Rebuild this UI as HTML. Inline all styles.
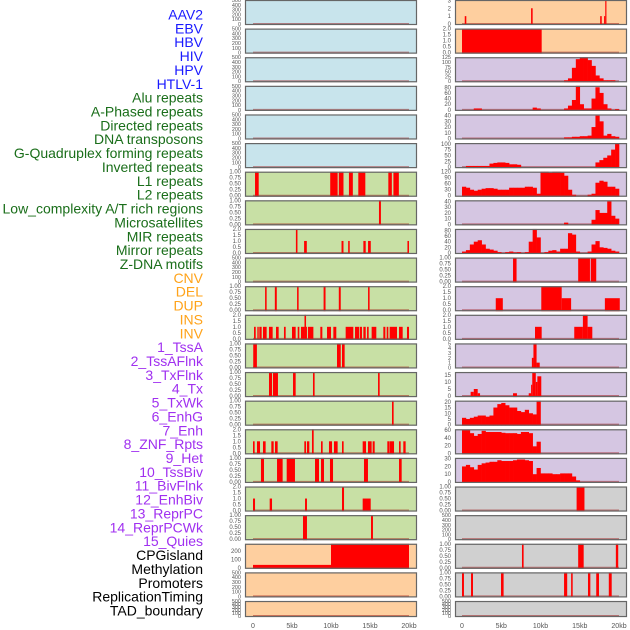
<!DOCTYPE html>
<html><head><meta charset="utf-8"><style>
html,body{margin:0;padding:0;background:#fff;}
svg{display:block;font-family:"Liberation Sans",sans-serif;}
</style></head><body>
<svg id="chart" width="630" height="630" viewBox="0 0 630 630"></svg>
<script>
// ---------- data ----------
const labelTexts = ["AAV2","EBV","HBV","HIV","HPV","HTLV-1","Alu repeats","A-Phased repeats","Directed repeats","DNA transposons","G-Quadruplex forming repeats","Inverted repeats","L1 repeats","L2 repeats","Low_complexity A/T rich regions","Microsatellites","MIR repeats","Mirror repeats","Z-DNA motifs","CNV","DEL","DUP","INS","INV","1_TssA","2_TssAFlnk","3_TxFlnk","4_Tx","5_TxWk","6_EnhG","7_Enh","8_ZNF_Rpts","9_Het","10_TssBiv","11_BivFlnk","12_EnhBiv","13_ReprPC","14_ReprPCWk","15_Quies","CPGisland","Methylation","Promoters","ReplicationTiming","TAD_boundary"];
const labelGroups = [0,0,0,0,0,0,1,1,1,1,1,1,1,1,1,1,1,1,1,2,2,2,2,2,3,3,3,3,3,3,3,3,3,3,3,3,3,3,3,4,4,4,4,4];
const xTickLabels = ["0","5kb","10kb","15kb","20kb"];
const xTickValues = [0,5,10,15,20];

const ticks500 = [0,100,200,300,400,500];
const ticksBin = [0,0.25,0.5,0.75,1];
const ticks2 = [0,0.5,1,1.5,2];

// left column segments [startKb, endKb, value]
const L6 = [[0.26,0.73,1],[9.9,10.85,1],[11,11.6,1],[12.3,12.8,1],[13.5,14.4,1],[17.35,17.8,1],[18,18.7,1]];
const L7 = [[16.15,16.4,1]];
const L8 = [[5.5,5.7,2],[6.55,6.9,1],[11.35,11.6,1],[12.2,12.4,1],[14.15,14.45,1],[14.75,15.1,1],[19.8,20,1]];
const L10 = [[1.55,1.75,1],[2.8,3.05,1],[5.65,5.85,1],[9.05,9.3,1],[11,11.25,1],[14.75,14.95,1]];
const L11 = [[0.13,0.35,1],[0.56,0.73,1],[0.81,1.11,1],[1.28,1.75,1],[2.05,2.52,1],[2.95,3.29,1],[3.97,4.19,1],[5,5.47,1],[5.73,5.94,1],[6.15,6.6,1],[6.6,6.8,2],[6.8,6.88,1],[7.05,7.74,1],[8.63,8.89,1],[9.49,10,1],[10.3,10.68,1],[11.88,12.86,1],[13.08,13.59,1],[13.68,13.97,1],[14.15,14.45,1],[14.62,14.83,1],[15.21,15.81,1],[16.71,16.97,1],[17.14,17.35,1],[17.52,18.46,1],[18.72,19.19,1],[19.74,20,1]];
const L12 = [[0.03,0.5,1],[10.77,11.25,1],[11.41,11.75,1]];
const L13 = [[2.05,2.44,1],[2.56,3.2,1],[5.13,5.47,1],[7.69,7.9,1],[16.03,16.24,1]];
const L14 = [[17.82,18.03,1]];
const L15 = [[0,0.21,1],[0.51,0.9,1],[1.28,1.62,1],[2.35,2.65,1],[2.82,3.16,1],[6.58,6.8,1],[6.92,7.22,1],[7.56,7.78,2],[8.72,8.93,1],[9.74,10.13,1],[10.38,10.85,1],[11.41,11.62,1],[14.06,14.49,1],[14.74,15.21,1],[15.34,15.6,1],[17.22,17.48,1],[17.52,18.08,1],[18.72,18.93,1],[19.27,19.57,1]];
const L16 = [[1.02,1.41,1],[3.08,3.8,1],[4.32,5.38,1],[7.95,8.46,1],[8.72,9.1,1],[9.87,10.26,1],[14.23,14.74,1],[18.72,19.06,1]];
const L17 = [[0,0.26,1],[2.14,2.44,1],[6.67,6.92,1],[11.41,11.67,2],[14.06,15.09,1]];
const L18 = [[6.41,6.92,1],[15.13,15.38,1]];
const L19 = [[0,10,35],[10,20,290]];

// right column segments
const R0 = [[0.35,0.55,1],[8.8,9.0,2],[17.6,17.8,1],[18.1,18.25,1],[18.25,18.4,3]];
const R1 = [[0,10.15,2]];
const R9 = [[6.5,6.95,1],[14.8,16.3,1],[16.4,17.1,1]];
const R10 = [[4.3,5.2,1],[10.1,12.7,2],[12.7,13.9,1],[18.2,20.1,1]];
const R11 = [[9.3,10.15,1],[14.3,15.4,1],[15.4,16.0,2],[16.0,16.6,1]];
const R12 = [[8.9,9.1,2],[9.1,9.5,5],[9.5,9.9,1]];
const R13 = [[1.1,1.5,3],[1.5,2.0,5],[2.0,2.3,2],[6.5,7.0,2],[8.5,8.8,2],[8.8,8.95,8],[8.95,9.4,17],[9.4,9.6,10],[9.6,10.1,14]];
const R17 = [[14.6,15.6,1]];
const R19 = [[7.64,7.85,1],[14.8,15.5,1],[19.6,19.9,1]];
const R20 = [[0,0.25,1],[1.15,1.4,1],[4.97,5.3,1],[13.0,13.4,1],[13.9,14.1,1],[16.05,16.35,1],[17.1,17.45,1],[18.7,19.07,1]];

// right column histograms: 40 bins of 0.5 kb
const R2bins = [0,0,0,0,0,0,0,0,0,0,0,0,0,0,0,0,0,0,0,0,0,0,0,0,0,0,5,15,70,115,125,125,110,80,30,15,5,5,5,0];
const R3bins = [0,0,0,5,5,0,0,0,0,0,0,0,0,0,0,0,0,0,8,5,0,0,0,0,0,0,5,15,35,85,20,5,5,40,80,60,20,5,0,3];
const R4bins = [0,0,0,0,0,0,0,0,0,0,0,0,0,0,0,0,0,0,0,0,0,0,0,0,0,0,2,2,3,3,4,4,5,20,40,30,5,8,4,3];
const R5bins = [0,5,5,5,5,5,5,15,18,20,20,18,12,12,10,0,0,0,0,0,0,0,0,0,0,0,0,0,0,0,0,0,0,0,20,30,40,50,75,100];
const R6bins = [45,40,30,25,30,35,38,38,35,30,30,30,40,40,40,40,45,45,40,10,120,120,115,120,120,115,100,30,5,0,0,0,5,10,65,75,70,45,45,35];
const R7bins = [0,0,0,0,0,0,0,0,0,0,0,0,0,0,0,0,0,0,0,0,0,0,0,0,0,0,3,0,0,0,0,0,0,8,25,20,20,40,15,10];
const R8bins = [5,10,30,40,45,30,15,12,8,3,0,3,5,2,3,0,3,40,85,55,0,3,8,10,5,15,15,70,65,5,0,0,5,30,42,20,18,15,8,5];
const R14bins = [6,5,6,7,8,8,7,8,15,18,19,17,15,15,12,11,13,10,9,21,0,0,0,0,0,0,0,0,0,0,0,0,0,0,0,0,0,0,0,0];
const R15bins = [60,60,52,45,50,58,55,55,55,55,53,52,52,52,50,55,55,52,18,30,0,0,0,0,0,0,0,0,0,0,0,0,0,0,0,0,0,0,0,0];
const R16bins = [20,22,19,16,22,24,25,26,26,28,27,27,27,28,29,29,28,27,10,18,11,11,11,10,10,11,11,11,7,2,0,0,0,0,0,0,0,0,0,0];

// panel specs: [bg, ymax, ticks, segs, bins]
const C = {blue:"#c8e4ec", green:"#c8e0a5", orange:"#fecf9f", lav:"#d5c6e2", grey:"#d0d0d0"};
const leftPanels = [
 [C.blue,500,ticks500,[],null],[C.blue,500,ticks500,[],null],[C.blue,500,ticks500,[],null],
 [C.blue,500,ticks500,[],null],[C.blue,500,ticks500,[],null],[C.blue,500,ticks500,[],null],
 [C.green,1,ticksBin,L6,null],[C.green,1,ticksBin,L7,null],[C.green,2,ticks2,L8,null],
 [C.green,500,ticks500,[],null],[C.green,1,ticksBin,L10,null],[C.green,2,ticks2,L11,null],
 [C.green,1,ticksBin,L12,null],[C.green,1,ticksBin,L13,null],[C.green,1,ticksBin,L14,null],
 [C.green,2,ticks2,L15,null],[C.green,1,ticksBin,L16,null],[C.green,2,ticks2,L17,null],
 [C.green,1,ticksBin,L18,null],[C.orange,290,[0,100,200],L19,null],
 [C.orange,500,ticks500,[],null],[C.orange,500,ticks500,[],null]
];
const rightPanels = [
 [C.orange,3.05,[0,1,2,3],R0,null],[C.orange,2,ticks2,R1,null],
 [C.lav,125,[0,25,50,75,100,125],[],R2bins],[C.lav,85,[0,20,40,60,80],[],R3bins],
 [C.lav,42,[0,10,20,30,40],[],R4bins],[C.lav,103,[0,25,50,75,100],[],R5bins],
 [C.lav,120,[0,30,60,90,120],[],R6bins],[C.lav,42,[0,10,20,30,40],[],R7bins],
 [C.lav,85,[0,20,40,60,80],[],R8bins],[C.lav,1,ticksBin,R9,null],
 [C.lav,2,ticks2,R10,null],[C.lav,2,ticks2,R11,null],
 [C.lav,5,[0,1,2,3,4,5],R12,null],[C.lav,17,[0,5,10,15],R13,null],
 [C.lav,21,[0,5,10,15,20],[],R14bins],[C.lav,62,[0,20,40,60],[],R15bins],
 [C.lav,31,[0,10,20,30],[],R16bins],[C.grey,1,ticksBin,R17,null],
 [C.grey,500,ticks500,[],null],[C.grey,1,ticksBin,R19,null],
 [C.grey,1,ticksBin,R20,null],[C.grey,500,ticks500,[],null]
];

// ---------- render ----------
const NS = "http://www.w3.org/2000/svg";
const svg = document.getElementById("chart");
function mk(tag, attrs, parent){ const e=document.createElementNS(NS,tag); for(const k in attrs) e.setAttribute(k,attrs[k]); (parent||svg).appendChild(e); return e; }

const labelColors = ["#1a1aff","#1a6e1a","#ffa31a","#a030f0","#000000"];
labelTexts.forEach((t,i)=>{
  const e = mk("text",{x:203,y:19.5+i*13.86,"text-anchor":"end","font-size":"14",fill:labelColors[labelGroups[i]]});
  e.textContent = t;
  
  
});

function rowTop(i){ return i*28.62; }
function rowH(i){ return i===21 ? 16 : 25; }

function drawColumn(panels, px0, px1, x0, sc, colName){
  const xs = kb => x0 + kb*sc;
  panels.forEach((p,i)=>{
    const [bg,ymax,ticks,segs,bins] = p;
    const top = rowTop(i), h = rowH(i), bot = top+h;
    const ys = v => bot - 1 - Math.min(v,ymax)/ymax*(h-1);
    const g = mk("g",{});
    
    
    mk("rect",{x:px0,y:top,width:px1-px0,height:h,fill:bg},g);
    // baseline
    mk("line",{x1:xs(0),x2:xs(20),y1:bot-1,y2:bot-1,stroke:"rgba(150,0,0,0.45)","stroke-width":2},g);
    segs.forEach(s=>{
      const r = mk("rect",{x:xs(s[0]),y:ys(s[2]),width:Math.max(1,(s[1]-s[0])*sc),height:bot-ys(s[2]),fill:"#ff0000"},g);
      
      
    });
    if(bins){
      bins.forEach((v,k)=>{
        if(v<=0) return;
        const r = mk("rect",{x:xs(k*0.5),y:ys(v),width:0.5*sc+0.3,height:bot-ys(v),fill:"#ff0000"},g);
        
        
      });
    }
    mk("rect",{x:px0+0.5,y:top+0.5,width:px1-px0-1,height:h-1,fill:"none",stroke:"#666","stroke-width":1.2},g);
    const fs = ticks.length>5 ? 5.5 : 6;
    ticks.forEach(t=>{
      const tt = mk("text",{x:px0-4,y:ys(t)+2,"text-anchor":"end","font-size":fs,fill:"#555"},g);
      tt.textContent = (ticksBin===ticks) ? t.toFixed(2) : (ticks2===ticks ? t.toFixed(1) : String(t));
    });
  });
  xTickValues.forEach((v,k)=>{
    const t = mk("text",{x:xs(v),y:628,"text-anchor":"middle","font-size":7,fill:"#555"});
    t.textContent = xTickLabels[k];
    
    
  });
}
drawColumn(leftPanels, 245, 417, 253, 7.8, "left");
drawColumn(rightPanels, 455, 627, 462, 7.85, "right");
</script>
</body></html>
